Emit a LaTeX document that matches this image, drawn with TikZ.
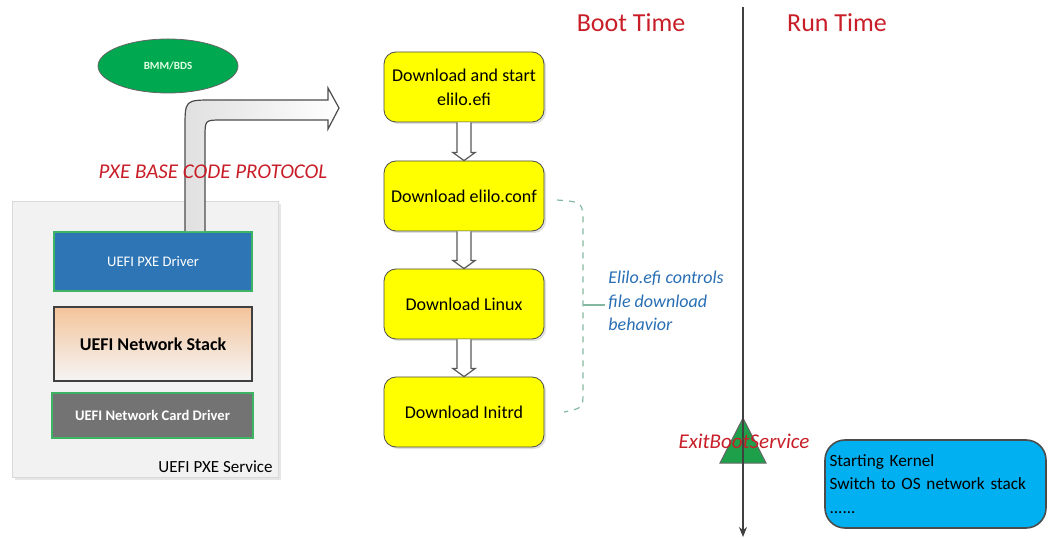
\documentclass[tikz,border=0pt]{standalone}
\usepackage{fontspec}
\setmainfont{Carlito}
\usetikzlibrary{calc,arrows.meta,shadows,shapes.geometric}
\definecolor{redtxt}{RGB}{200,30,40}
\definecolor{bluetxt}{RGB}{40,110,180}
\definecolor{yel}{RGB}{255,255,0}
\definecolor{pxeblue}{RGB}{46,117,182}
\definecolor{edgegreen}{RGB}{60,180,100}
\definecolor{ellgreen}{RGB}{0,168,80}
\definecolor{trigreen}{RGB}{30,160,75}
\definecolor{kernblue}{RGB}{0,176,240}
\definecolor{stackorange}{RGB}{244,196,155}
\definecolor{bracecol}{RGB}{130,185,160}
\tikzset{
  stepbox/.style={draw=black!70, fill=yel, rounded corners=6pt, minimum width=80pt, minimum height=35pt, align=center, font=\fontsize{9}{12}\selectfont, drop shadow={opacity=0.25, shadow xshift=1pt, shadow yshift=-1pt}},
  hollow/.style={draw=black!65, fill=white, line width=0.6pt},
  redlabel/.style={text=redtxt, font=\fontsize{13}{15}\selectfont},
  innerbox/.style={minimum width=99pt, align=center},
}
\begin{document}
\begin{tikzpicture}[x=0.5pt,y=-0.5pt]
\useasboundingbox (0,0) rectangle (1049,539);

% headings
\node[redlabel] (boot) at (631,23) {Boot Time};
\node[redlabel] (run) at (837,23) {Run Time};

% BMM/BDS
\node[ellipse, draw=black!60, fill=ellgreen, minimum width=70pt, minimum height=27pt, text=white!90!green, font=\fontsize{5.5}{7}\bfseries\selectfont] (bmm) at (168,66) {BMM/BDS};

% outer service box
\node[draw=black!15, fill=black!5, minimum width=133pt, minimum height=138pt, drop shadow={opacity=0.2, shadow xshift=1.5pt, shadow yshift=-1.5pt}] (svc) at (145,339) {};
\node[anchor=south east, inner sep=0pt, font=\fontsize{8.5}{10}\selectfont] (svclbl) at (273,473) {UEFI PXE Service};

\node[innerbox, draw=edgegreen, line width=0.8pt, fill=pxeblue, minimum height=29.5pt, text=white, font=\fontsize{7.3}{9}\selectfont] (pxe) at (153,261.5) {UEFI PXE Driver};
\node[innerbox, draw=black!75, line width=1pt, top color=stackorange, bottom color=black!4, minimum height=37pt, font=\fontsize{9}{11}\bfseries\selectfont] (stack) at (153,344) {UEFI Network Stack};
\node[draw=edgegreen, line width=0.8pt, fill=black!55, minimum width=100.5pt, minimum height=22.5pt, text=white, font=\fontsize{7.3}{9}\bfseries\selectfont] (card) at (152.5,415.5) {UEFI Network Card Driver};

% bent arrow from PXE driver
\coordinate (bendtip) at (339,108);
\draw[draw=black!70, line width=0.6pt, left color=black!12, right color=white]
  ($(pxe.north)+(32,0)$) -- (185,128) .. controls (185,100) .. (213,100) -- (328,100) -- (328,88) -- (bendtip) -- (328,129) -- (328,120) -- (222,120) .. controls (205,120) .. (205,137) -- ($(pxe.north)+(52,0)$);

\node[text=redtxt, font=\fontsize{10.5}{12}\itshape\selectfont] (pxeproto) at (213,172) {PXE BASE CODE PROTOCOL};

% step boxes
\node[stepbox] (s1) at (464,87) {Download and start\\elilo.efi};
\node[stepbox] (s2) at (464,196) {Download elilo.conf};
\node[stepbox] (s3) at (464,304) {Download Linux};
\node[stepbox] (s4) at (464,412) {Download Initrd};

\foreach \a/\b in {s1/s2,s2/s3,s3/s4}{
  \draw[hollow] ($(\a.south)+(-7,0)$) -- ($(\b.north)+(-7,-8)$) -- ($(\b.north)+(-11,-8)$) -- (\b.north) -- ($(\b.north)+(11,-8)$) -- ($(\b.north)+(7,-8)$) -- ($(\a.south)+(7,0)$);
}

% dashed brace
\coordinate (brtop) at (557,200);
\coordinate (brbot) at (564,412);
\coordinate (brmid) at (583,305);
\coordinate (brtip) at (605,305);
\draw[bracecol, dashed, line width=0.6pt] (brtop) .. controls (583,202) .. (583,225) -- (brmid) -- (583,392) .. controls (583,408) .. (brbot);
\draw[bracecol, line width=0.6pt] (brmid) -- (brtip);
\node[anchor=west, align=left, text=bluetxt, font=\fontsize{9}{11.8}\itshape\selectfont, inner sep=0pt] (elilo) at (608,301) {Elilo.efi controls\\file download\\behavior};

% timeline
\coordinate (tltop) at (743,7);
\coordinate (tlbot) at (743,537);
\coordinate (triA) at (743,418);
\coordinate (triB) at (766,463);
\coordinate (triC) at (720,463);
\draw[fill=trigreen, draw=black!60, line width=0.5pt] (triA) -- (triB) -- (triC) -- cycle;
\draw[black!75, line width=0.8pt, -{Stealth[length=5pt,width=4pt]}] (tltop) -- (tlbot);
\node[text=redtxt, font=\fontsize{10.5}{12}\itshape\selectfont] (exit) at (744,441) {ExitBootService};

% kernel box
\node[draw=black!70, line width=0.8pt, fill=kernblue, rounded corners=10pt, minimum width=110.5pt, minimum height=44pt, text width=106pt, align=left, inner xsep=2.25pt, font=\fontsize{8.6}{11.75}\selectfont] (kern) at (935.5,484) {Starting Kernel\\Switch to OS network stack\\......};

\end{tikzpicture}
\end{document}
